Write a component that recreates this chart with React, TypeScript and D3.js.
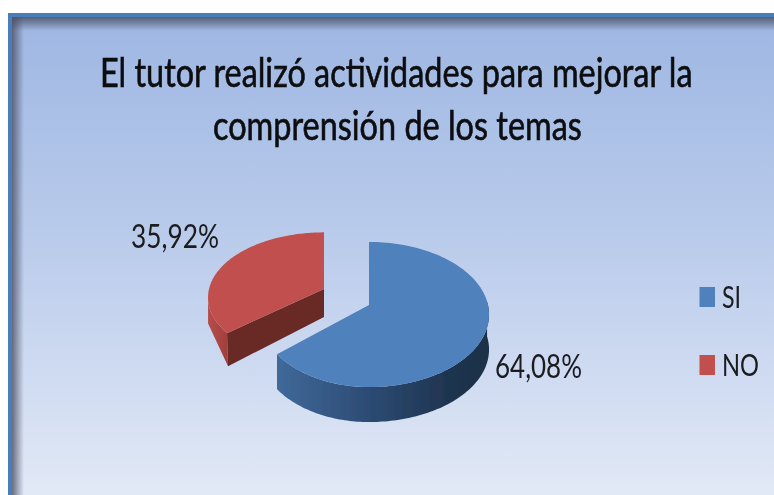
import React from "react";
import * as d3 from "d3";

const W = 774;
const H = 495;
const categories = ["SI", "NO"];
const values = [64.08, 35.92];
const valueLabels = ["64,08%", "35,92%"];
const titleLines = ["El tutor realizó actividades para mejorar la", "comprensión de los temas"];
const FONT = "Lato, Carlito, 'Open Sans', sans-serif";

type Geo = { vx: number; vy: number; aL: number; aR: number; b: number; p: number; depth: number };
const geos: Geo[] = [
  { vx: 369, vy: 305, aL: 109, aR: 119, b: 71.3, p: 0.131, depth: 35 },
  { vx: 324, vy: 289, aL: 115, aR: 115, b: 64, p: 0.13, depth: 28 },
];

const project = (g: Geo, t: number, dz = 0): [number, number] => {
  const u = Math.sin(t);
  const v = -Math.cos(t);
  const k = 1 - g.p * v;
  const a = u < 0 ? g.aL : g.aR;
  return [g.vx + (a * u) / k, g.vy + (g.b * v) / k + dz];
};

const path = (pts: [number, number][]) => d3.line()(pts) + "Z";
const arcPts = (g: Geo, a0: number, a1: number, dz = 0) =>
  d3.range(0, 121).map((i) => project(g, a0 + ((a1 - a0) * i) / 120, dz));

const measure = (s: string, size: number) => {
  const ctx = document.createElement("canvas").getContext("2d") as CanvasRenderingContext2D;
  ctx.font = `${size}px ${FONT}`;
  return ctx.measureText(s).width;
};

const FitText = ({ s, x, y, size, width }: { s: string; x: number; y: number; size: number; width: number }) => (
  <text transform={`translate(${x},${y}) scale(${width / measure(s, size)},1)`} fontSize={size}>
    {s}
  </text>
);

export default function App() {
  const arcs = d3.pie<number>().sort(null)(values);
  const [blue, red] = arcs;
  const gB = geos[0];
  const gR = geos[1];

  // Blue pieces
  const blueTop = path([[gB.vx, gB.vy], ...arcPts(gB, blue.startAngle, blue.endAngle)]);
  const wallFrom = Math.PI / 2 - 0.05;
  const blueWallPts = arcPts(gB, wallFrom, blue.endAngle);
  const blueWall = path([...blueWallPts, ...blueWallPts.map(([x, y]) => [x, y + gB.depth] as [number, number]).reverse()]);
  const blueInner = path([
    [gB.vx, gB.vy - 63],
    [gB.vx, gB.vy],
    [gB.vx + 1.5, gB.vy],
    [gB.vx + 1, gB.vy - 63],
  ]);

  // Red pieces
  const redTop = path([[gR.vx, gR.vy], ...arcPts(gR, red.startAngle, red.endAngle)]);
  const corner = project(gR, red.startAngle);
  const cornerBottom: [number, number] = [corner[0] + 1, corner[1] + gR.depth + 5];
  const leftMost = (3 * Math.PI) / 2 - 0.1;
  const redWallPts = arcPts(gR, red.startAngle, leftMost);
  const redWall = path([...redWallPts, project(gR, leftMost, gR.depth), cornerBottom]);
  const redCut = path([
    [gR.vx, gR.vy],
    corner,
    cornerBottom,
    [gR.vx, gR.vy + gR.depth],
  ]);

  const y = d3.scaleBand<string>().domain(categories).range([263, 399]);
  const legendY = (c: string) => (y(c) as number) + y.bandwidth() / 2;

  return (
    <svg
      width={W}
      height={H}
      viewBox={`0 0 ${W} ${H}`}
      style={{ position: "absolute", left: 0, top: 0, background: "#fff" }}
    >
      <defs>
        <linearGradient id="bg" x1="0" y1="0" x2="0" y2="1">
          <stop offset="0" stopColor="#9db6e2" />
          <stop offset="0.5" stopColor="#bccdec" />
          <stop offset="1" stopColor="#e2e9f6" />
        </linearGradient>
        <linearGradient id="shTop" x1="0" y1="0" x2="0" y2="1">
          <stop offset="0" stopColor="#4a4f63" stopOpacity="0.85" />
          <stop offset="1" stopColor="#4a4f63" stopOpacity="0" />
        </linearGradient>
        <linearGradient id="shLeft" x1="0" y1="0" x2="1" y2="0">
          <stop offset="0" stopColor="#4a4f63" stopOpacity="0.8" />
          <stop offset="1" stopColor="#4a4f63" stopOpacity="0" />
        </linearGradient>
        <linearGradient id="blueWall" x1="0" y1="0" x2="1" y2="0">
          <stop offset="0" stopColor="#40699a" />
          <stop offset="0.45" stopColor="#2c4a72" />
          <stop offset="0.8" stopColor="#1f3550" />
          <stop offset="1" stopColor="#1c3048" />
        </linearGradient>
        <linearGradient id="redWall" x1="0" y1="0" x2="1" y2="0">
          <stop offset="0" stopColor="#b54d49" />
          <stop offset="1" stopColor="#a13f3c" />
        </linearGradient>
        <filter id="soft" x="-5%" y="-5%" width="110%" height="110%">
          <feGaussianBlur stdDeviation="0.55" />
        </filter>
      </defs>

      <rect x={8} y={13} width={W - 8} height={H - 13} fill="url(#bg)" />
      <rect x={12} y={17} width={12} height={H - 17} fill="url(#shLeft)" />
      <rect x={12} y={17} width={W - 12} height={14} fill="url(#shTop)" />
      <rect x={8} y={13} width={W - 8} height={4} fill="#4a7ebb" />
      <rect x={8} y={13} width={4} height={H - 13} fill="#4a7ebb" />

      <g filter="url(#soft)">
        <g>
          <path d={redWall} fill="url(#redWall)" />
          <path d={redCut} fill="#692a27" />
          <path d={redTop} fill="#c0504d" />
        </g>
        <g>
          <path d={blueWall} fill="url(#blueWall)" />
          <path d={blueInner} fill="#1f3550" />
          <path d={blueTop} fill="#4f81bd" />
        </g>
      </g>

      <g filter="url(#soft)" fill="#0a0a0e" fontFamily={FONT}>
        <g stroke="#0a0a0e" strokeWidth={0.6}>
          <FitText s={titleLines[0]} x={100} y={87} size={41} width={594} />
          <FitText s={titleLines[1]} x={213} y={140} size={41} width={369} />
        </g>
        <g fill="#1a1a1f">
          <FitText s={valueLabels[0]} x={495} y={378} size={33} width={87} />
          <FitText s={valueLabels[1]} x={131} y={248} size={33} width={88} />
        </g>
        {categories.map((c, i) => (
          <g key={c}>
            <rect x={699.5} y={legendY(c) - 10} width={15.5} height={20} fill={i === 0 ? "#4f81bd" : "#c0504d"} />
            <g fill="#1a1a1f">
              <FitText s={c} x={722} y={legendY(c) + 11} size={30} width={i === 0 ? 19 : 37} />
            </g>
          </g>
        ))}
      </g>
    </svg>
  );
}
